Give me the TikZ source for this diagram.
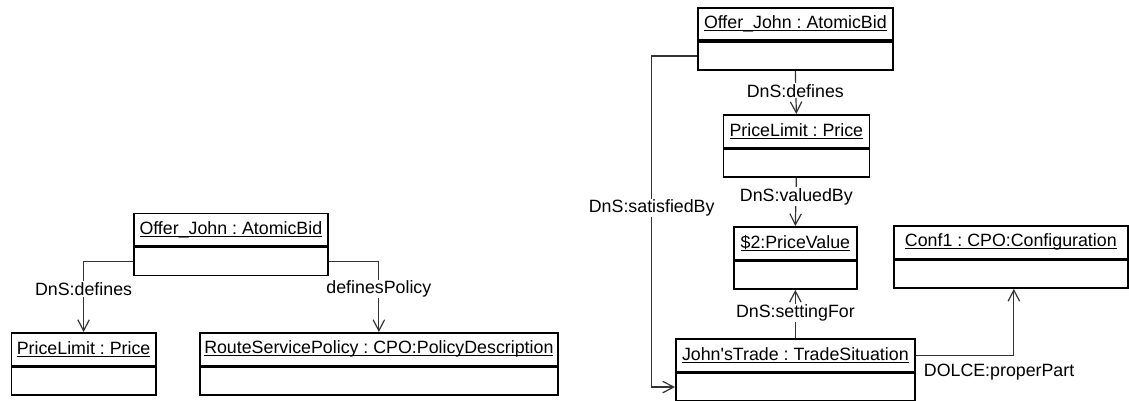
\documentclass[tikz,border=0pt]{standalone}
\usepackage{fontspec}
\setmainfont{Liberation Sans}[Ligatures=TeXOff]
\usetikzlibrary{arrows.meta}
\frenchspacing
% underlined object name with a fixed underline depth
\newcommand\ulname[1]{\setbox0=\hbox{#1}\rlap{\rule[-2.6pt]{\wd0}{1pt}}\box0}

\begin{document}
\begin{tikzpicture}[x=1pt,y=-1pt,
  uml/.style={font=\fontsize{17.8}{20}\selectfont},
  title/.style={uml, draw, line width=1.7pt, minimum height=32.5pt, inner sep=0pt, anchor=north west},
  body/.style={draw, line width=1.7pt, minimum height=28pt, inner sep=0pt, anchor=north},
  link/.style={draw=black!80, line width=1.2pt},
  tip/.style={-{Straight Barb[length=11pt,width=11.5pt,line width=1.2pt]}},
  lbl/.style={uml, fill=white, inner sep=1pt}]
\useasboundingbox (0,0) rectangle (1129,401);

% ---- left diagram ----
\node[title, minimum width=194pt] (ojL) at (133,212.5) {\ulname{Offer\_John : AtomicBid}};
\node[body, minimum width=194pt] (ojLb) at (ojL.south) {};
\node[title, minimum width=144.5pt] (plL) at (10.5,332) {\ulname{PriceLimit : Price}};
\node[body, minimum width=144.5pt] (plLb) at (plL.south) {};
\node[title, minimum width=358pt] (rsp) at (199,332) {\ulname{RouteServicePolicy : CPO:PolicyDescription}};
\node[body, minimum width=358pt] (rspb) at (rsp.south) {};

\draw[link,tip] (ojLb.west) -| (plL.north);
\node[lbl] (lDef) at (plL.north |- 0,289) {DnS:defines};
\draw[link,tip] (ojLb.east) -| (rsp.north);
\node[lbl] (lPol) at (rsp.north |- 0,289) {definesPolicy};

% ---- right diagram ----
\node[title, minimum width=195pt] (ojR) at (697,7) {\ulname{Offer\_John : AtomicBid}};
\node[body, minimum width=195pt] (ojRb) at (ojR.south) {};
\node[title, minimum width=146pt] (plR) at (722.5,114) {\ulname{PriceLimit : Price}};
\node[body, minimum width=146pt] (plRb) at (plR.south) {};
\node[title, minimum width=123pt] (pv) at (733,226) {\ulname{\$2:PriceValue}};
\node[body, minimum width=123pt] (pvb) at (pv.south) {};
\node[title, minimum width=234pt] (conf) at (893,225) {\ulname{Conf1 : CPO:Configuration}};
\node[body, minimum width=234pt] (confb) at (conf.south) {};
\node[title, minimum width=239pt] (jt) at (675,338) {\ulname{John'sTrade : TradeSituation}};
\node[body, minimum width=239pt] (jtb) at (jt.south) {};

\draw[link,tip] (ojRb.south) -- (plR.north);
\node[lbl] (rDef) at (ojRb.south |- 0,90.7) {DnS:defines};
\draw[link,tip] (plRb.south) -- (pv.north);
\node[lbl] (rVal) at (plRb.south |- 0,196.7) {DnS:valuedBy};
\draw[link,tip] (jt.north) -- (pvb.south);
\node[lbl] (rSet) at (jt.north |- 0,313) {DnS:settingFor};

\coordinate (sbTurn) at (651.7,0);
\draw[link,tip] (ojRb.west) -- (sbTurn |- ojRb.west) |- (jtb.west);
\node[lbl] (rSat) at (sbTurn |- 0,208) {DnS:satisfiedBy};

\draw[link,tip] (jt.east) -| ([xshift=3pt]confb.south);
\node[uml, anchor=west, inner sep=0pt] (rPart) at ([xshift=8pt]jtb.north east) {DOLCE:properPart};
\end{tikzpicture}
\end{document}
